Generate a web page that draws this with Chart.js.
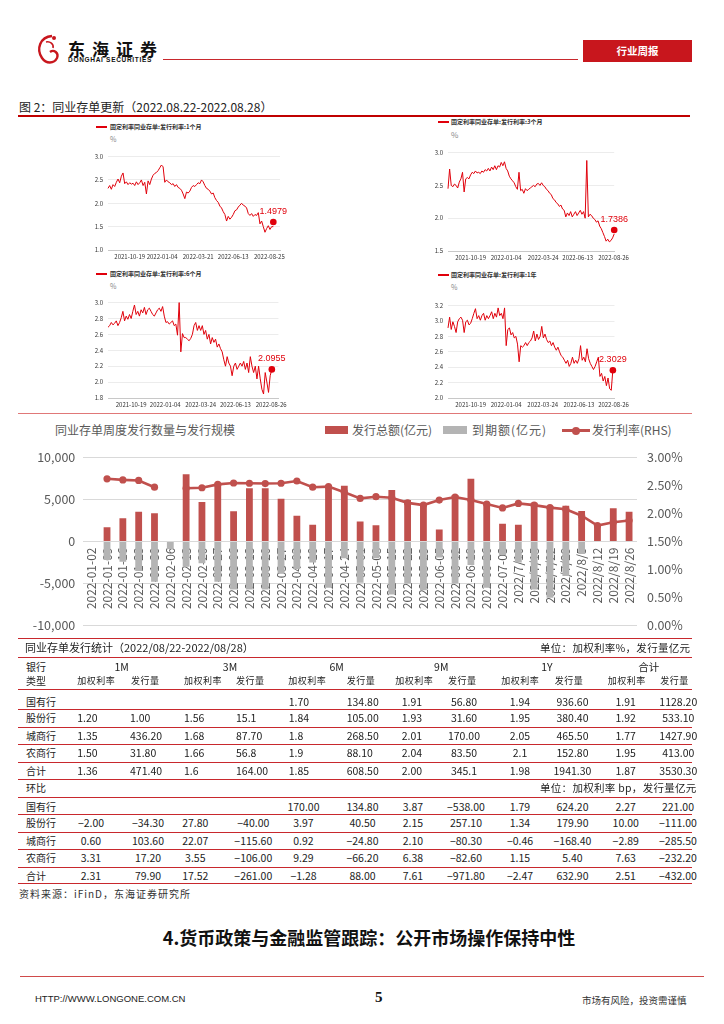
<!DOCTYPE html>
<html><head><meta charset="utf-8">
<script src="https://cdn.jsdelivr.net/npm/chart.js@4.4.1/dist/chart.umd.min.js"></script>
<style>
body{margin:0;width:724px;height:1024px;position:relative;background:#fff;font-family:"Noto Sans CJK SC",sans-serif;overflow:hidden;color:#222}
.a{position:absolute;white-space:nowrap}
canvas{position:absolute}
.hl{position:absolute;height:0;border-top:1px solid #c8282d}
</style></head><body>

<!-- page header -->
<svg class="a" style="left:34px;top:33px" width="28" height="34" viewBox="0 0 28 34">
<path d="M18 3 C6 4 2 16 8 25 C12 31 20 31 23 25 C25 20 20 16 16 19" fill="none" stroke="#c8161d" stroke-width="2.4"/>
<path d="M12 9 C16 8 20 11 19 15" fill="none" stroke="#c8161d" stroke-width="1.6"/>
<circle cx="20" cy="5" r="2" fill="#c8161d"/>
</svg>
<div class="a" style="left:68px;top:36px;font-size:17px;font-weight:bold;letter-spacing:7px;color:#111">东海证券</div>
<div class="a" style="left:68px;top:56px;font-family:'Liberation Sans';font-size:6.5px;font-weight:bold;letter-spacing:0.7px;color:#111">DONGHAI SECURITIES</div>
<div class="hl" style="left:163px;top:59px;width:415px;border-color:#c8282d"></div>
<div class="a" style="left:583px;top:40px;width:109px;height:22px;background:#c8161d;color:#fff;font-size:10.5px;font-weight:bold;text-align:center;line-height:22px">行业周报</div>

<div class="a" style="left:19px;top:98px;font-size:12px;color:#222">图 2：同业存单更新（2022.08.22-2022.08.28）</div>
<div class="hl" style="left:18px;top:115px;width:672px;border-top:2px solid #c00000"></div>

<!-- small chart legends -->
<div class="hl" style="left:96px;top:126px;width:11px;border-top:2px solid #e0000b"></div>
<div class="a" style="left:110px;top:122px;font-size:6px;font-weight:bold;color:#333">固定利率同业存单:发行利率:1个月</div>
<div class="a" style="left:110px;top:134px;font-size:7px;color:#888">%</div>

<div class="hl" style="left:438px;top:121px;width:11px;border-top:2px solid #e0000b"></div>
<div class="a" style="left:451px;top:117px;font-size:6px;font-weight:bold;color:#333">固定利率同业存单:发行利率:3个月</div>
<div class="a" style="left:451px;top:129px;font-size:8px;color:#888">%</div>

<div class="hl" style="left:96px;top:273px;width:11px;border-top:2px solid #e0000b"></div>
<div class="a" style="left:110px;top:269px;font-size:6px;font-weight:bold;color:#333">固定利率同业存单:发行利率:6个月</div>
<div class="a" style="left:110px;top:281px;font-size:7px;color:#888">%</div>

<div class="hl" style="left:438px;top:274px;width:11px;border-top:2px solid #e0000b"></div>
<div class="a" style="left:451px;top:270px;font-size:6px;font-weight:bold;color:#333">固定利率同业存单:发行利率:1年</div>
<div class="a" style="left:451px;top:282px;font-size:7px;color:#888">%</div>

<canvas id="c1" width="207" height="116" style="left:83px;top:148px"></canvas>
<canvas id="c2" width="209" height="121" style="left:423px;top:144px"></canvas>
<canvas id="c3" width="207" height="118" style="left:83px;top:294px"></canvas>
<canvas id="c4" width="209" height="115" style="left:423px;top:297px"></canvas>

<div class="hl" style="left:18px;top:413px;width:674px;border-top:1.5px solid #e07878"></div>

<!-- main chart title & legend -->
<div class="a" style="left:55px;top:421px;font-size:12px;color:#595959">同业存单周度发行数量与发行规模</div>
<div class="a" style="left:325px;top:426px;width:23px;height:8px;background:#c0504d"></div>
<div class="a" style="left:352px;top:421px;font-size:12px;color:#595959">发行总额(亿元)</div>
<div class="a" style="left:443px;top:426px;width:24px;height:8px;background:#b4b4b4"></div>
<div class="a" style="left:472px;top:421px;font-size:12px;color:#595959;letter-spacing:1px">到期额(亿元)</div>
<div class="a" style="left:562px;top:429px;width:28px;height:3px;background:#c0504d"></div>
<div class="a" style="left:572px;top:426.5px;width:8px;height:8px;border-radius:50%;background:#c0504d"></div>
<div class="a" style="left:592px;top:421px;font-size:12px;color:#595959">发行利率(RHS)</div>

<canvas id="main" width="672" height="203" style="left:18px;top:440px"></canvas>

<div id="tbl"></div>

<div class="a" style="left:19px;top:886px;font-size:10px;letter-spacing:1px;color:#333">资料来源：iFinD，东海证券研究所</div>
<div class="a" style="left:0;width:738px;top:924px;font-size:18px;font-weight:bold;color:#111;text-align:center">4.货币政策与金融监管跟踪：公开市场操作保持中性</div>
<div class="hl" style="left:20px;top:976px;width:684px;border-top:1.5px solid #d04a4a"></div>
<div class="a" style="left:35px;top:993px;font-family:'Liberation Sans';font-size:9.5px;color:#222">HTTP://WWW.LONGONE.COM.CN</div>
<div class="a" style="left:375px;top:989px;font-family:'Liberation Serif';font-size:15px;font-weight:bold;color:#111">5</div>
<div class="a" style="left:582px;top:993px;font-size:9.5px;color:#333">市场有风险，投资需谨慎</div>

<script>
// ---------------- main chart data ----------------
const weeks = ['2022-01-02','2022-01-09','2022-01-16','2022-01-23','2022-01-30','2022-02-06','2022-02-13','2022-02-20','2022-02-27','2022-03-06','2022-03-13','2022-03-20','2022-03-27','2022-04-03','2022-04-10','2022-04-17','2022-04-24','2022-05-01','2022-05-08','2022-05-15','2022-05-22','2022-05-29','2022-06-05','2022-06-12','2022-06-19','2022-06-26','2022-07-03','2022/7/10','2022/7/15','2022/7/22','2022/7/29','2022/8/5','2022/8/12','2022/8/19','2022/8/26'];
const issueAmt = [null,1700,2760,3550,3350,null,8000,4700,6900,3600,6350,6350,5090,3080,1980,6700,6650,2370,1930,6140,4940,4500,1420,5510,7480,4550,2100,1980,4620,4230,4270,3630,1980,3950,3550];
const maturityAmt = [null,-2200,-2400,-3500,-4800,-900,-3000,-2600,-4800,-5700,-5700,-5700,-3800,-3300,-2500,-5500,-2000,-4900,-2000,-6300,-5000,-5800,-1900,-5000,-2800,-5500,-1600,-2500,-5700,-6700,-4100,-1500,null,null,null];
const issueRate = [null,2.62,2.60,2.59,2.47,null,2.45,2.46,2.52,2.545,2.54,2.535,2.54,2.58,2.47,2.48,2.38,2.27,2.30,2.28,2.19,2.15,2.24,2.295,2.24,2.17,2.10,2.18,2.15,2.105,2.075,1.96,1.785,1.845,1.875];
const leftTicks = [-10000,-5000,0,5000,10000];
const rightTicks = [0,0.5,1,1.5,2,2.5,3];

// ---------------- small chart data ----------------
const rate1M = [2.32,2.38,2.30,2.40,2.36,2.45,2.52,2.44,2.58,2.65,2.42,2.46,2.40,2.44,2.41,2.43,2.38,2.46,2.40,2.44,2.50,2.38,2.45,2.20,2.48,2.40,2.52,2.60,2.64,2.66,2.70,2.76,2.82,2.78,2.45,2.50,2.46,2.44,2.40,2.42,2.36,2.40,2.34,2.32,2.28,2.20,2.10,2.24,2.22,2.26,2.34,2.38,2.36,2.40,2.44,2.42,2.50,2.46,2.38,2.32,2.30,2.26,2.20,2.22,2.12,2.06,2.02,1.94,1.90,1.82,1.76,1.62,1.72,1.66,1.70,1.76,1.84,1.86,1.92,1.96,2.00,1.96,1.94,1.90,1.78,1.74,1.78,1.72,1.76,1.74,1.80,1.56,1.62,1.50,1.38,1.46,1.52,1.44,1.50,1.50];
const rate3M = [2.45,2.75,2.50,2.48,2.52,2.50,2.46,2.55,2.60,2.70,2.40,2.60,2.62,2.60,2.66,2.70,2.68,2.72,2.69,2.70,2.68,2.72,2.70,2.74,2.72,2.76,2.72,2.78,2.74,2.80,2.74,2.80,2.78,2.85,2.80,2.86,2.76,2.72,2.64,2.60,2.57,2.54,2.48,2.44,2.70,2.42,2.44,2.38,2.45,2.42,2.44,2.46,2.48,2.50,2.48,2.52,2.53,2.50,2.54,2.50,2.48,2.44,2.42,2.38,2.36,2.30,2.28,2.24,2.22,2.18,2.20,2.14,2.12,2.02,2.08,2.04,2.10,2.02,2.06,2.10,2.04,2.08,2.12,2.06,2.10,2.00,2.88,2.02,2.06,2.04,2.00,1.98,1.94,1.96,1.88,1.84,1.78,1.72,1.65,1.68,1.64,1.66,1.70,1.76];
const rate6M = [2.69,2.71,2.75,2.72,2.74,2.77,2.71,2.75,2.81,2.89,2.77,2.83,2.79,2.85,2.80,2.89,2.97,2.85,2.89,2.83,2.91,2.87,2.94,2.85,2.91,2.93,2.89,2.85,2.83,2.87,2.91,2.93,2.89,2.95,2.83,2.75,2.76,2.73,2.75,2.77,2.71,2.73,2.59,3.00,2.38,2.61,2.56,2.56,2.54,2.52,2.55,2.60,2.71,2.75,2.65,2.71,2.65,2.71,2.60,2.65,2.54,2.60,2.48,2.56,2.50,2.54,2.44,2.48,2.42,2.38,2.28,2.20,2.32,2.24,2.20,2.08,2.20,2.24,2.16,2.20,2.24,2.20,2.26,2.16,2.24,2.12,2.32,2.20,2.12,2.20,2.04,2.20,2.04,1.91,1.85,2.12,2.00,1.87,2.08,2.16];
const rate1Y = [2.91,3.05,2.89,2.99,2.93,2.85,2.99,3.03,3.05,3.01,2.85,2.99,3.01,2.95,2.97,3.03,3.10,3.16,3.03,3.07,3.01,3.07,3.10,3.01,3.07,3.03,3.07,3.12,3.03,3.10,3.05,3.17,3.07,3.10,3.03,3.17,2.68,2.89,2.91,2.82,2.85,2.78,2.80,2.70,2.47,2.68,2.66,2.68,2.72,2.68,2.72,2.74,2.78,2.87,2.74,2.83,2.76,2.80,2.93,2.78,2.83,2.76,2.72,2.74,2.68,2.72,2.66,2.62,2.66,2.60,2.55,2.53,2.49,2.45,2.49,2.41,2.45,2.53,2.45,2.49,2.45,2.51,2.68,2.49,2.53,2.47,2.64,2.51,2.45,2.41,2.37,2.41,2.47,2.53,2.28,2.32,2.22,2.28,2.16,2.26,2.12,2.10,2.37];
const dateTicks1M = ['2021-10-19','2022-01-04','2022-03-21','2022-06-13','2022-08-25'];
const dateTicks3M = ['2021-10-19','2022-01-04','2022-03-24','2022-06-13','2022-08-26'];
const dateTicks6M = ['2021-10-19','2022-01-04','2022-03-24','2022-06-13','2022-08-26'];
const dateTicks1Y = ['2021-10-19','2022-01-04','2022-03-24','2022-06-13','2022-08-26'];
const datePos1M = [13,32.4,54,75,96.6];
const datePos3M = [14,36,59,80.4,102.6];
const datePos6M = [14,34.6,56,77,98.6];
const datePos1Y = [14,36,58.6,81,102.4];
const lastMark = [1.60,1.82,2.16,2.36];
const lastLabel = ['1.4979','1.7386','2.0955','2.3029'];

// ---------------- table data ----------------
const bankTypes = ['国有行','股份行','城商行','农商行','合计'];
const tenors = ['1M','3M','6M','9M','1Y','合计'];
const issueStats = [
 ['','','','','1.70','134.80','1.91','56.80','1.94','936.60','1.91','1128.20'],
 ['1.20','1.00','1.56','15.1','1.84','105.00','1.93','31.60','1.95','380.40','1.92','533.10'],
 ['1.35','436.20','1.68','87.70','1.8','268.50','2.01','170.00','2.05','465.50','1.77','1427.90'],
 ['1.50','31.80','1.66','56.8','1.9','88.10','2.04','83.50','2.1','152.80','1.95','413.00'],
 ['1.36','471.40','1.6','164.00','1.85','608.50','2.00','345.1','1.98','1941.30','1.87','3530.30']];
const changeStats = [
 ['','','','','170.00','134.80','3.87','-538.00','1.79','624.20','2.27','221.00'],
 ['-2.00','-34.30','27.80','-40.00','3.97','40.50','2.15','257.10','1.34','179.90','10.00','-111.00'],
 ['0.60','103.60','22.07','-115.60','0.92','-24.80','2.10','-80.30','-0.46','-168.40','-2.89','-285.50'],
 ['3.31','17.20','3.55','-106.00','9.29','-66.20','6.38','-82.60','1.15','5.40','7.63','-232.20'],
 ['2.31','79.90','17.52','-261.00','-1.28','88.00','7.61','-971.80','-2.47','632.90','2.51','-432.00']];

// ---------------- rendering ----------------
Chart.defaults.font.family = '"Noto Sans CJK SC","Liberation Sans",sans-serif';
Chart.defaults.animation = false;
const GRAY = '#595959';

new Chart(document.getElementById('main'), {
  data: {
    labels: weeks,
    datasets: [
      {type:'line', label:'发行利率(RHS)', data: issueRate, yAxisID:'y1', order:0,
       borderColor:'#c0504d', backgroundColor:'#c0504d', borderWidth:2.6, tension:0,
       pointRadius:3.6, pointBorderWidth:0, pointBackgroundColor:'#c0504d', spanGaps:false},
      {type:'bar', label:'发行总额(亿元)', data: issueAmt, yAxisID:'y', order:1,
       backgroundColor:'#c0504d', barPercentage:0.43, categoryPercentage:1},
      {type:'bar', label:'到期额(亿元)', data: maturityAmt, yAxisID:'y', order:2,
       backgroundColor:'#b4b4b4', barPercentage:0.43, categoryPercentage:1}
    ]
  },
  options: {
    responsive:false, animation:false,
    layout:{padding:{top:14.5, bottom:7.7, left:0, right:0}},
    plugins:{legend:{display:false}, tooltip:{enabled:false}},
    scales:{
      x:{stacked:true, position:{y:0}, z:1,
         grid:{display:false, drawTicks:false}, border:{display:false},
         ticks:{minRotation:90, maxRotation:90, autoSkip:false, padding:6, color:GRAY, font:{size:12}},
         afterFit:s=>{s.height=0;}},
      y:{stacked:true, position:'left', min:-10000, max:10000,
         afterBuildTicks:s=>{s.ticks = leftTicks.map(v=>({value:v}));},
         ticks:{padding:8, color:GRAY, font:{size:12.5}, callback:v=>v.toLocaleString('en-US')},
         grid:{color:'#d9d9d9', drawTicks:false}, border:{display:false},
         afterFit:s=>{s.width=65.3;}},
      y1:{position:'right', min:0, max:3,
         afterBuildTicks:s=>{s.ticks = rightTicks.map(v=>({value:v}));},
         ticks:{padding:10, color:GRAY, font:{size:12.5}, callback:v=>v.toFixed(2)+'%'},
         grid:{display:false, drawTicks:false}, border:{display:false},
         afterFit:s=>{s.width=53;}}
    }
  }
});

function smallChart(id, values, yMin, yMax, yStep, tickPos, tickText, xMax, padRight, mark, label) {
  const pts = values.map((v,i)=>({x:i, y:v}));
  const annot = {id:'annot', afterDatasetsDraw(c){
    const p = c.getDatasetMeta(1).data[0]; const ctx = c.ctx;
    ctx.save(); ctx.fillStyle='#e0000b'; ctx.font='9px "Liberation Sans"';
    ctx.textAlign='center'; ctx.textBaseline='middle';
    ctx.fillText(label, p.x, p.y-10.5); ctx.restore();
  }};
  new Chart(document.getElementById(id), {
    type:'line',
    data:{datasets:[
      {data:pts, borderColor:'#e0000b', borderWidth:1, pointRadius:0, tension:0, clip:false},
      {data:[{x:values.length-1, y:mark}], showLine:false, pointRadius:3.3, pointBorderWidth:0,
       pointBackgroundColor:'#e0000b', backgroundColor:'#e0000b', clip:false}
    ]},
    options:{responsive:false, animation:false,
      layout:{padding:{top:5, right:padRight, left:0, bottom:0}},
      plugins:{legend:{display:false}, tooltip:{enabled:false}},
      scales:{
        x:{type:'linear', min:0, max:xMax,
           afterBuildTicks:s=>{s.ticks = tickPos.map(v=>({value:v}));},
           ticks:{autoSkip:false, maxRotation:0, padding:3, color:'#333', font:{size:6}, callback:(v,i)=>tickText[i]},
           grid:{display:false, drawTicks:false}, border:{display:true, color:'#c8c8c8'},
           afterFit:s=>{s.height=14;}},
        y:{min:yMin, max:yMax,
           ticks:{stepSize:yStep, padding:5, color:'#333', font:{size:6}, callback:v=>v.toFixed(1)},
           grid:{color:'#ececec', drawTicks:false}, border:{display:false},
           afterFit:s=>{s.width=25;}}
      }},
    plugins:[annot]
  });
}
smallChart('c1', rate1M, 1.0, 3.0, 0.5, datePos1M, dateTicks1M, 103, 10, lastMark[0], lastLabel[0]);
smallChart('c2', rate3M, 1.5, 3.0, 0.5, datePos3M, dateTicks3M, 103, 12, lastMark[1], lastLabel[1]);
smallChart('c3', rate6M, 1.8, 3.0, 0.2, datePos6M, dateTicks6M, 103, 10, lastMark[2], lastLabel[2]);
smallChart('c4', rate1Y, 2.0, 3.2, 0.2, datePos1Y, dateTicks1Y, 103, 12, lastMark[3], lastLabel[3]);

// table
(function(){
  const t = document.getElementById('tbl');
  const add = (txt, x, yc, align, size, extra) => {
    const d = document.createElement('div'); d.className='a';
    d.textContent = txt.replace(/^-/, '−');
    d.style.fontSize = size+'px'; d.style.lineHeight='16px'; d.style.top=(yc-8)+'px';
    if (align==='left') { d.style.left = x+'px'; }
    else { d.style.left=(x-45)+'px'; d.style.width='90px'; d.style.textAlign='center'; }
    if (extra) Object.assign(d.style, extra);
    t.appendChild(d);
  };
  const lines = [638.3,657,689.3,709,726.7,744.3,761.7,779,796.7,814,831.7,849.3,866.7,883.3];
  lines.forEach((y,i)=>{ const l=document.createElement('div'); l.className='hl';
    l.style.left='18px'; l.style.width='674px'; l.style.top=y+'px';
    if (i===0) l.style.borderTop='1.5px solid #c8282d';
    t.appendChild(l); });
  add('同业存单发行统计（2022/08/22-2022/08/28）', 25, 647.3, 'left', 11);
  add('单位：加权利率%，发行量亿元', 540, 648.3, 'left', 10.5, {letterSpacing:'0.3px'});
  add('银行', 26, 666.7, 'left', 10);
  add('类型', 26, 680.7, 'left', 10);
  const tenorX = [121.7,230,336.7,441.3,547,648.7];
  tenors.forEach((h,i)=>add(h, tenorX[i], 666.7, 'center', 10.5));
  const rateL = [77.3,184,288.3,395.3,501.3,607.7];
  const volL = [131,236,346.7,448,554.7,660.3];
  for (let i=0;i<6;i++){ add('加权利率', rateL[i], 680.7, 'left', 9, {letterSpacing:'0.5px'}); add('发行量', volL[i], 680.7, 'left', 9, {letterSpacing:'0.5px'}); }
  const upY = [701.7,718.3,735.7,753.3,771];
  const loY = [806.7,823.3,841,858.3,875.7];
  const upX = [77.3,130,184,236,288.7,346.7,412,464,520,572.5,625.7,678.3];
  const loX = [91,148,195.3,253.3,303.5,362.5,413,466,520,572.5,625.7,678];
  bankTypes.forEach((b,r)=>{
    add(b, 26, upY[r], 'left', 10);
    issueStats[r].forEach((v,c)=>{ if(v) add(v, upX[c], upY[r], c<6?'left':'center', 10.5); });
    add(b, 26, loY[r], 'left', 10);
    changeStats[r].forEach((v,c)=>{ if(v) add(v, loX[c], loY[r], 'center', 10.5); });
  });
  add('环比', 26, 788.3, 'left', 10);
  add('单位：加权利率 bp，发行量亿元', 540, 788.3, 'left', 10.5, {letterSpacing:'0.3px'});
})();
</script>
</body></html>
